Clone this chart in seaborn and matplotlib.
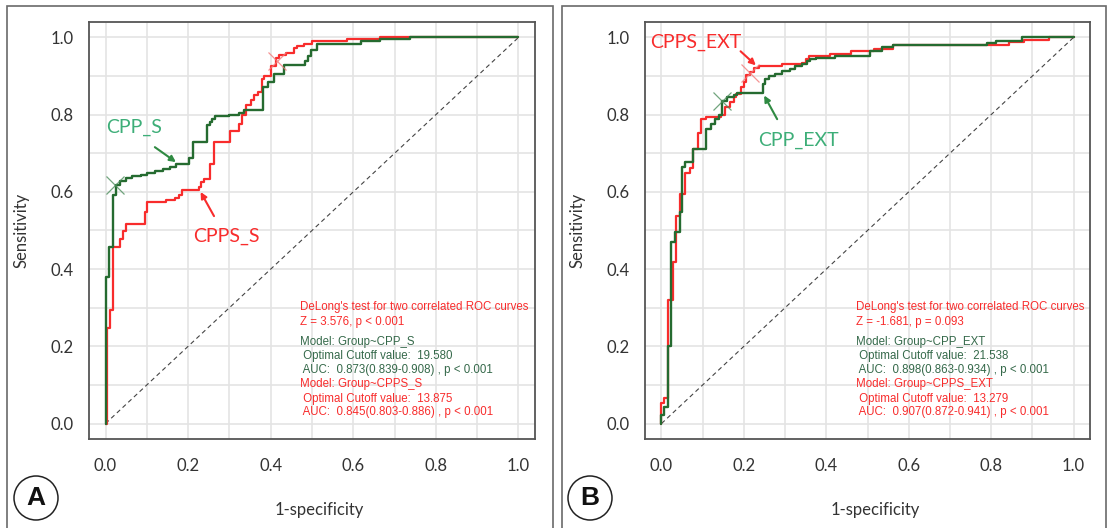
import numpy as np
import pandas as pd
import seaborn as sns
import matplotlib.pyplot as plt
from matplotlib.patches import Rectangle, Ellipse
from matplotlib.ticker import MultipleLocator

# ---- data (step corners: fpr, tpr) ----
cpp_s_fpr = [0, 0, 0.009, 0.018, 0.026, 0.035, 0.05, 0.065, 0.085, 0.10, 0.12, 0.14, 0.155, 0.17,
             0.202, 0.212, 0.246, 0.252, 0.258, 0.266, 0.299, 0.323, 0.335, 0.382, 0.393, 0.408,
             0.432, 0.482, 0.49, 0.498, 0.513, 0.619, 0.664, 0.737, 1.0]
cpp_s_tpr = [0, 0.379, 0.457, 0.592, 0.617, 0.628, 0.635, 0.64, 0.645, 0.648, 0.655, 0.66, 0.665, 0.671,
             0.688, 0.73, 0.772, 0.781, 0.79, 0.797, 0.80, 0.805, 0.811, 0.871, 0.884, 0.906,
             0.928, 0.938, 0.952, 0.967, 0.984, 0.99, 0.995, 1.0, 1.0]

cpps_s_fpr = [0, 0.003, 0.01, 0.018, 0.035, 0.043, 0.049, 0.095, 0.101, 0.147, 0.169, 0.177, 0.186,
              0.226, 0.232, 0.238, 0.252, 0.262, 0.301, 0.323, 0.331, 0.341, 0.353, 0.36, 0.37,
              0.378, 0.384, 0.40, 0.412, 0.42, 0.436, 0.456, 0.464, 0.48, 0.50, 0.584, 0.665, 1.0]
cpps_s_tpr = [0, 0.247, 0.293, 0.457, 0.477, 0.50, 0.517, 0.547, 0.573, 0.578, 0.585, 0.592, 0.604,
              0.612, 0.626, 0.633, 0.673, 0.729, 0.757, 0.777, 0.80, 0.824, 0.837, 0.85, 0.86,
              0.893, 0.90, 0.926, 0.948, 0.955, 0.961, 0.972, 0.978, 0.984, 0.99, 0.995, 1.0, 1.0]

cpp_ext_fpr = [0, 0, 0.007, 0.016, 0.024, 0.034, 0.044, 0.05, 0.058, 0.077, 0.109, 0.119, 0.131, 0.139,
               0.146, 0.16, 0.175, 0.184, 0.247, 0.252, 0.26, 0.276, 0.293, 0.313, 0.325, 0.341,
               0.353, 0.361, 0.374, 0.422, 0.507, 0.535, 0.563, 0.79, 0.813, 0.875, 1.0]
cpp_ext_tpr = [0, 0.022, 0.042, 0.2, 0.47, 0.497, 0.548, 0.665, 0.678, 0.71, 0.764, 0.777, 0.79, 0.798,
               0.836, 0.845, 0.852, 0.856, 0.88, 0.893, 0.90, 0.905, 0.912, 0.918, 0.927, 0.931,
               0.94, 0.944, 0.947, 0.951, 0.966, 0.975, 0.981, 0.985, 0.992, 1.0, 1.0]

cpps_ext_fpr = [0, 0, 0.007, 0.016, 0.027, 0.036, 0.045, 0.058, 0.07, 0.077, 0.088, 0.096, 0.107, 0.145,
                0.155, 0.167, 0.175, 0.182, 0.192, 0.20, 0.206, 0.214, 0.224, 0.236, 0.293, 0.34,
                0.35, 0.358, 0.41, 0.459, 0.516, 0.563, 0.843, 0.88, 0.94, 1.0]
cpps_ext_tpr = [0, 0.052, 0.065, 0.321, 0.419, 0.538, 0.595, 0.65, 0.663, 0.71, 0.752, 0.79, 0.795, 0.80,
                0.82, 0.833, 0.845, 0.854, 0.871, 0.884, 0.902, 0.91, 0.92, 0.926, 0.932, 0.934,
                0.945, 0.952, 0.958, 0.964, 0.969, 0.98, 0.988, 0.993, 1.0, 1.0]

# optimal cutoff points (x markers)
opt_a = {"CPP_S": (0.022, 0.617), "CPPS_S": (0.416, 0.938)}
opt_b = {"CPP_EXT": (0.148, 0.836), "CPPS_EXT": (0.214, 0.909)}

text_a = ["DeLong's test for two correlated ROC curves", "Z = 3.576, p < 0.001",
          "Model: Group~CPP_S", " Optimal Cutoff value:  19.580", " AUC:  0.873(0.839-0.908) , p < 0.001",
          "Model: Group~CPPS_S", " Optimal Cutoff value:  13.875", " AUC:  0.845(0.803-0.886) , p < 0.001"]
text_b = ["DeLong's test for two correlated ROC curves", "Z = -1.681, p = 0.093",
          "Model: Group~CPP_EXT", " Optimal Cutoff value:  21.538", " AUC:  0.898(0.863-0.934) , p < 0.001",
          "Model: Group~CPPS_EXT", " Optimal Cutoff value:  13.279", " AUC:  0.907(0.872-0.941) , p < 0.001"]

RED = "#F82C2C"
DKGREEN = "#256B30"
LBLGREEN = "#3DAE78"
TXTGREEN = "#35694A"

sns.set_style("white")
plt.rcParams["font.family"] = ["Lato", "DejaVu Sans"]

fig = plt.figure(figsize=(11.11, 5.28), dpi=100)
ax_a = fig.add_axes([89 / 1111, 1 - 439 / 528, 446 / 1111, 417 / 528])
ax_b = fig.add_axes([645 / 1111, 1 - 439 / 528, 445 / 1111, 417 / 528])


def draw_panel(ax, red_x, red_y, grn_x, grn_y, opts, lines):
    red_df = pd.DataFrame({"fpr": red_x, "tpr": red_y})
    grn_df = pd.DataFrame({"fpr": grn_x, "tpr": grn_y})
    ax.plot([0, 1], [0, 1], color="#444444", lw=0.8, ls=(0, (4, 3)), zorder=2)
    sns.lineplot(data=red_df, x="fpr", y="tpr", ax=ax, sort=False, estimator=None,
                 drawstyle="steps-post", color=RED, lw=1.6, zorder=3)
    sns.lineplot(data=grn_df, x="fpr", y="tpr", ax=ax, sort=False, estimator=None,
                 drawstyle="steps-post", color=DKGREEN, lw=1.7, zorder=4)
    names = list(opts)
    gx, gy = opts[names[0]]
    rx, ry = opts[names[1]]
    ax.plot(gx, gy, marker="x", ms=13, mew=0.9, color="#4E8F5E", alpha=0.8, zorder=5)
    ax.plot(rx, ry, marker="x", ms=13, mew=0.9, color="#F37A7A", alpha=0.8, zorder=5)

    ax.set_xlim(-0.04, 1.04)
    ax.set_ylim(-0.04, 1.04)
    ax.xaxis.set_major_locator(MultipleLocator(0.2))
    ax.yaxis.set_major_locator(MultipleLocator(0.2))
    ax.xaxis.set_minor_locator(MultipleLocator(0.1))
    ax.yaxis.set_minor_locator(MultipleLocator(0.1))
    ax.grid(which="both", color="#E4E4E4", lw=1.2, zorder=0)
    ax.set_axisbelow(True)
    ax.tick_params(which="major", direction="out", length=7, width=1, color="#555555",
                   labelsize=12, labelcolor="#333333", pad=4)
    ax.tick_params(which="minor", length=0)
    ax.tick_params(axis="x", pad=7)
    for s in ax.spines.values():
        s.set_color("#555555")
        s.set_linewidth(1.3)
    ax.set_xlabel("1-specificity", fontsize=12, color="#333333")
    ax.set_ylabel("Sensitivity", fontsize=12, color="#333333")
    ax.xaxis.set_label_coords(0.517, -0.151)
    ax.yaxis.set_label_coords(-0.133, 0.5)

    colors = [RED, RED, TXTGREEN, TXTGREEN, TXTGREEN, RED, RED, RED]
    ys = [0.302, 0.263, 0.211, 0.175, 0.139, 0.103, 0.064, 0.03]
    for t, c, y in zip(lines, colors, ys):
        ax.text(0.472, y, t, color=c, fontsize=8.3, va="center", ha="left",
                family=["Liberation Sans", "DejaVu Sans"], zorder=6)


draw_panel(ax_a, cpps_s_fpr, cpps_s_tpr, cpp_s_fpr, cpp_s_tpr, opt_a, text_a)
draw_panel(ax_b, cpps_ext_fpr, cpps_ext_tpr, cpp_ext_fpr, cpp_ext_tpr, opt_b, text_b)

# curve labels with arrows
ax_a.text(0.07, 0.767, "CPP_S", color=LBLGREEN, fontsize=14, ha="center", va="center")
ax_a.annotate("", xy=(0.176, 0.673), xytext=(0.114, 0.72),
              arrowprops=dict(arrowstyle="-|>", color="#2F8A42", lw=1.5, mutation_scale=9))
ax_a.text(0.293, 0.485, "CPPS_S", color=RED, fontsize=14, ha="center", va="center")
ax_a.annotate("", xy=(0.227, 0.606), xytext=(0.266, 0.531),
              arrowprops=dict(arrowstyle="-|>", color=RED, lw=1.5, mutation_scale=9))

ax_b.text(0.083, 0.987, "CPPS_EXT", color=RED, fontsize=14, ha="center", va="center")
ax_b.annotate("", xy=(0.234, 0.923), xytext=(0.187, 0.969),
              arrowprops=dict(arrowstyle="-|>", color=RED, lw=1.5, mutation_scale=9))
ax_b.text(0.333, 0.734, "CPP_EXT", color=LBLGREEN, fontsize=14, ha="center", va="center")
ax_b.annotate("", xy=(0.246, 0.856), xytext=(0.284, 0.782),
              arrowprops=dict(arrowstyle="-|>", color="#2F8A42", lw=1.5, mutation_scale=9))

# panel frames and letters
W, H = 1111, 528
for x0, x1 in [(7, 553), (562, 1106)]:
    fig.patches.append(Rectangle((x0 / W, -0.05), (x1 - x0) / W, 1 - 6 / H + 0.05,
                                 transform=fig.transFigure, fill=False, ec="#6A6A6A", lw=1.2))
for cx, letter in [(36, "A"), (590, "B")]:
    fig.patches.append(Ellipse((cx / W, 1 - 498 / H), 44 / W, 44 / H, transform=fig.transFigure,
                               fill=False, ec="#222222", lw=1.1))
    fig.text(cx / W, 1 - 498 / H, letter, fontsize=19, fontweight="bold", ha="center",
             va="center", family=["Liberation Sans", "DejaVu Sans"], color="#111111")

fig.savefig("out.png", dpi=100, facecolor="white")
